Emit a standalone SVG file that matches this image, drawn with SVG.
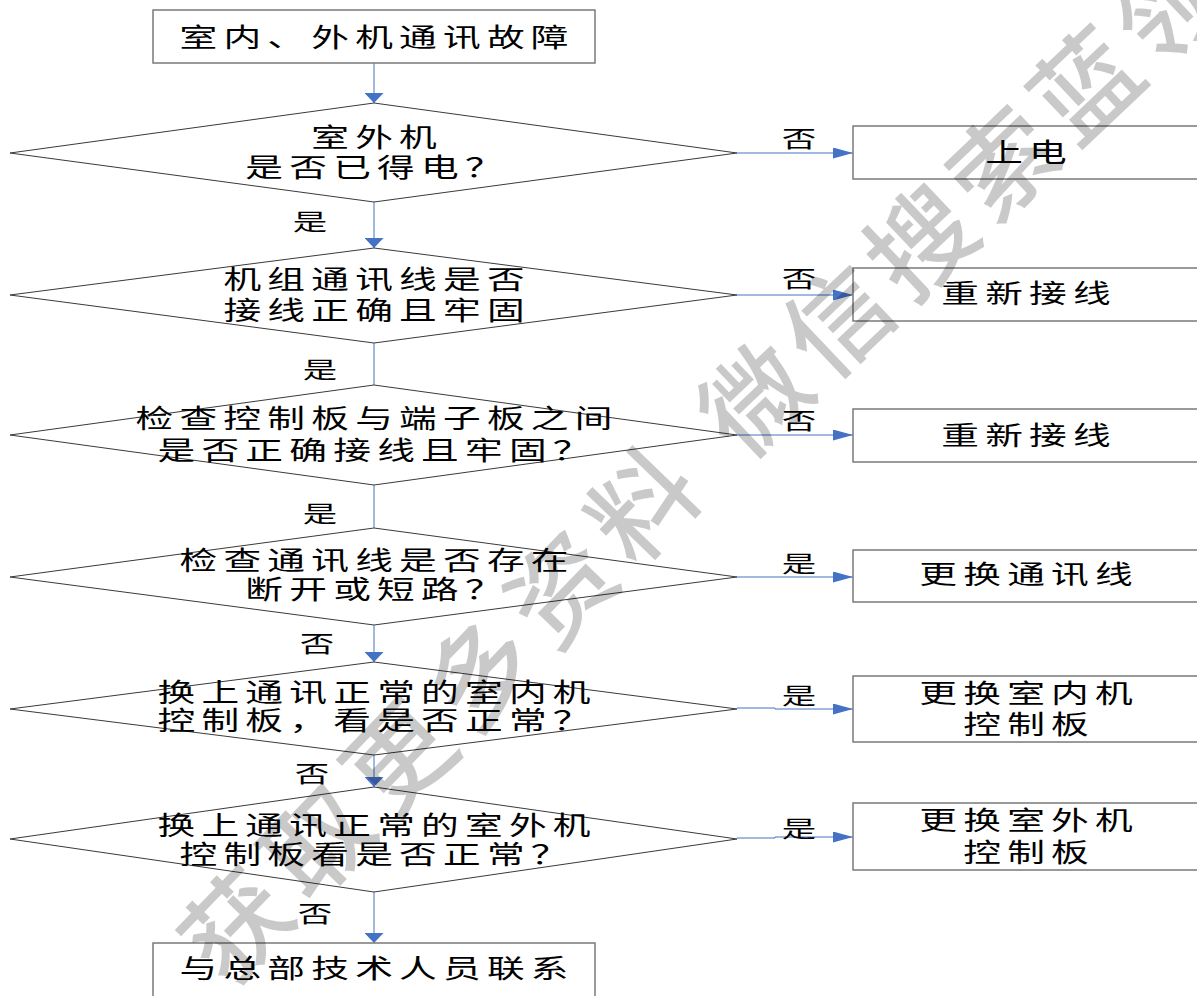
<svg xmlns="http://www.w3.org/2000/svg" width="1197" height="996" viewBox="0 0 1197 996">
<defs>
<style>
.box{fill:none;stroke:#7a7a7a;stroke-width:1.5}
.dia{fill:none;stroke:#3a3a3a;stroke-width:1}
.con{fill:none;stroke:#4472C4;stroke-width:1}
.t{font-family:"Noto Sans CJK SC","Noto Sans CJK JP",sans-serif;font-size:26px;font-weight:400;letter-spacing:4.3px;text-anchor:middle;fill:#000}
.l{font-family:"Noto Sans CJK SC","Noto Sans CJK JP",sans-serif;font-size:23px;font-weight:400;text-anchor:middle;fill:#000}
.wm{font-family:"Noto Sans CJK SC","Noto Sans CJK JP",sans-serif;font-size:104px;font-weight:500;fill:#000;fill-opacity:0.21}
</style>
<marker id="ah" markerUnits="userSpaceOnUse" markerWidth="20" markerHeight="11" refX="20" refY="5.5" orient="auto"><path d="M0,0 L20,5.5 L0,11 Z" fill="#4472C4"/></marker>
<marker id="av" markerUnits="userSpaceOnUse" markerWidth="10" markerHeight="19" refX="10" refY="9.5" orient="auto"><path d="M0,0 L10,9.5 L0,19 Z" fill="#4472C4"/></marker>
</defs>
<rect width="1197" height="996" fill="#fff"/>

<g id="connectors">
<path class="con" d="M374,63 V103" marker-end="url(#av)"/>
<path class="con" d="M374,202 V248" marker-end="url(#av)"/>
<path class="con" d="M374,343 V385"/>
<path class="con" d="M374,485 V528"/>
<path class="con" d="M374,625 V662" marker-end="url(#av)"/>
<path class="con" d="M374,755 V787" marker-end="url(#av)"/>
<path class="con" d="M374,892 V943" marker-end="url(#av)"/>
<path class="con" d="M737,153 H853" marker-end="url(#ah)"/>
<path class="con" d="M737,295 H853" marker-end="url(#ah)"/>
<path class="con" d="M737,435 H853" marker-end="url(#ah)"/>
<path class="con" d="M737,577 H853" marker-end="url(#ah)"/>
<path class="con" d="M737,708 H775 V709 H853" marker-end="url(#ah)"/>
<path class="con" d="M737,838 H775 V837 H853" marker-end="url(#ah)"/>
<g id="labels">
<text class="l" transform="translate(799,147) scale(1.5,1)">否</text>
<text class="l" transform="translate(799,287) scale(1.5,1)">否</text>
<text class="l" transform="translate(799,429) scale(1.5,1)">否</text>
<text class="l" transform="translate(799,572) scale(1.5,1)">是</text>
<text class="l" transform="translate(799,704) scale(1.5,1)">是</text>
<text class="l" transform="translate(799,837) scale(1.5,1)">是</text>
<text class="l" transform="translate(310,230) scale(1.5,1)">是</text>
<text class="l" transform="translate(320,378) scale(1.5,1)">是</text>
<text class="l" transform="translate(320,522) scale(1.5,1)">是</text>
<text class="l" transform="translate(317,652) scale(1.5,1)">否</text>
<text class="l" transform="translate(312,782) scale(1.5,1)">否</text>
<text class="l" transform="translate(315,922) scale(1.5,1)">否</text>
</g>
</g>

<g id="start">
<rect class="box" x="153" y="10" width="442" height="53"/>
<text class="t" transform="translate(374,47) scale(1.45,1)" x="2.15">室内、外机通讯故障</text>
</g>

<g id="d1">
<polygon class="dia" points="374,103 737,153 374,202 10,153"/>
<text class="t" transform="translate(374,146.5) scale(1.45,1)" x="2.15">室外机</text>
<text class="t" transform="translate(374,176.5) scale(1.45,1)" x="2.15">是否已得电？</text>
</g>
<g id="b1">
<rect class="box" x="853" y="126" width="350" height="53"/>
<text class="t" transform="translate(1026,161.5) scale(1.45,1)" x="2.15">上电</text>
</g>

<g id="d2">
<polygon class="dia" points="374,248 737,295 374,343 10,295"/>
<text class="t" transform="translate(374,288.5) scale(1.45,1)" x="2.15">机组通讯线是否</text>
<text class="t" transform="translate(374,319.5) scale(1.45,1)" x="2.15">接线正确且牢固</text>
</g>
<g id="b2">
<rect class="box" x="853" y="268" width="350" height="53"/>
<text class="t" transform="translate(1026,302.5) scale(1.45,1)" x="2.15">重新接线</text>
</g>

<g id="d3">
<polygon class="dia" points="374,385 737,435 374,485 10,435"/>
<text class="t" transform="translate(374,427.5) scale(1.45,1)" x="2.15">检查控制板与端子板之间</text>
<text class="t" transform="translate(374,459.5) scale(1.45,1)" x="2.15">是否正确接线且牢固？</text>
</g>
<g id="b3">
<rect class="box" x="853" y="409" width="350" height="53"/>
<text class="t" transform="translate(1026,444.5) scale(1.45,1)" x="2.15">重新接线</text>
</g>

<g id="d4">
<polygon class="dia" points="374,528 737,577 374,625 10,577"/>
<text class="t" transform="translate(374,569.5) scale(1.45,1)" x="2.15">检查通讯线是否存在</text>
<text class="t" transform="translate(374,598.5) scale(1.45,1)" x="2.15">断开或短路？</text>
</g>
<g id="b4">
<rect class="box" x="853" y="550" width="350" height="52"/>
<text class="t" transform="translate(1026,583.5) scale(1.45,1)" x="2.15">更换通讯线</text>
</g>

<g id="d5">
<polygon class="dia" points="374,662 737,709 374,755 10,709"/>
<text class="t" transform="translate(374,701.5) scale(1.45,1)" x="2.15">换上通讯正常的室内机</text>
<text class="t" transform="translate(374,729.5) scale(1.45,1)" x="2.15">控制板，看是否正常？</text>
</g>
<g id="b5">
<rect class="box" x="853" y="676" width="350" height="66"/>
<text class="t" transform="translate(1026,702.5) scale(1.45,1)" x="2.15">更换室内机</text>
<text class="t" transform="translate(1026,733.5) scale(1.45,1)" x="2.15">控制板</text>
</g>

<g id="d6">
<polygon class="dia" points="374,787 737,839 374,892 10,839"/>
<text class="t" transform="translate(374,834.5) scale(1.45,1)" x="2.15">换上通讯正常的室外机</text>
<text class="t" transform="translate(374,863.5) scale(1.45,1)" x="2.15">控制板看是否正常？</text>
</g>
<g id="b6">
<rect class="box" x="853" y="803" width="350" height="67"/>
<text class="t" transform="translate(1026,829.5) scale(1.45,1)" x="2.15">更换室外机</text>
<text class="t" transform="translate(1026,861.5) scale(1.45,1)" x="2.15">控制板</text>
</g>

<g id="end">
<rect class="box" x="153" y="943" width="442" height="70"/>
<text class="t" transform="translate(374,977.5) scale(1.45,1)" x="2.15">与总部技术人员联系</text>
</g>

<g id="watermark">
<text class="wm" transform="translate(228,990) rotate(-46)" letter-spacing="13">获取更多资料</text>
<text class="wm" transform="translate(744,463) rotate(-43.5)" letter-spacing="10">微信搜索蓝领</text>
</g>
</svg>
